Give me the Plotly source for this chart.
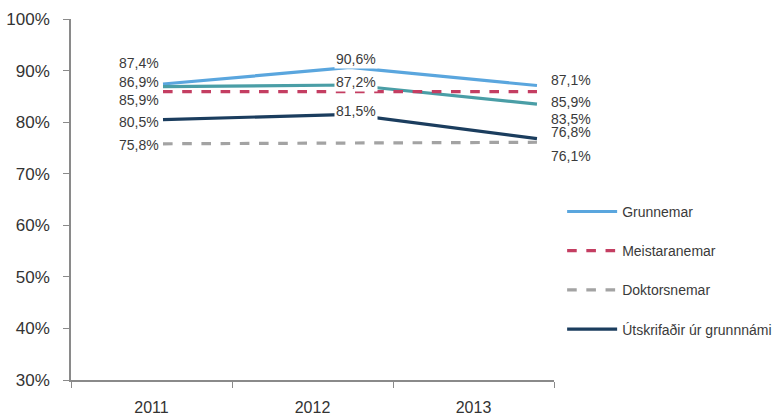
import plotly.graph_objects as go

years = ["2011", "2012", "2013"]
grunnemar = [87.4, 90.6, 87.1]
teal_series = [86.9, 87.2, 83.5]
meistaranemar = [85.9, 85.9, 85.9]
doktorsnemar = [75.8, 75.9, 76.1]
utskrifadir = [80.5, 81.5, 76.8]

series_names = ["Grunnemar", "Meistaranemar", "Doktorsnemar", "Útskrifaðir úr grunnnámi"]
y_ticks = [30, 40, 50, 60, 70, 80, 90, 100]
y_tick_labels = ["30%", "40%", "50%", "60%", "70%", "80%", "90%", "100%"]

labels_2011 = [(grunnemar, "87,4%"), (teal_series, "86,9%"), (meistaranemar, "85,9%"),
               (utskrifadir, "80,5%"), (doktorsnemar, "75,8%")]
labels_2012 = [(grunnemar, "90,6%"), (teal_series, "87,2%"), (utskrifadir, "81,5%")]
labels_2013 = [(grunnemar, "87,1%"), (meistaranemar, "85,9%"), (teal_series, "83,5%"),
               (utskrifadir, "76,8%"), (doktorsnemar, "76,1%")]
shift_2011 = [21, 5, -8, -2, -1]
shift_2012 = [8, 3, 3]
shift_2013 = [6, -10, -15, 7, -14]

fig = go.Figure()

styles = [
    (grunnemar, series_names[0], "#5AA6DE", "solid", True, 1),
    (teal_series, "", "#4A9EA6", "solid", False, 5),
    (meistaranemar, series_names[1], "#C43E62", "dash", True, 2),
    (doktorsnemar, series_names[2], "#A3A3A3", "dash", True, 3),
    (utskrifadir, series_names[3], "#1B3D5E", "solid", True, 4),
]
for i, (vals, name, col, dash, show, rank) in enumerate(styles):
    fig.add_trace(go.Scatter(
        x=years, y=vals, name=name, mode="lines",
        line=dict(color=col, width=3.2, dash=dash),
        showlegend=show, legendgroup="g%d" % i, legendrank=rank,
        xaxis="x2", yaxis="y",
    ))

font_lab = dict(family="Liberation Sans, Arial, sans-serif", size=14, color="#3a3a3a")
for (vals, txt), sh in zip(labels_2011, shift_2011):
    fig.add_annotation(x=0, y=vals[0], xref="x2", yref="y", text=txt,
                       showarrow=False, xanchor="right", yanchor="middle",
                       xshift=-2, yshift=sh, font=font_lab)
for (vals, txt), sh in zip(labels_2012, shift_2012):
    fig.add_annotation(x=1, y=vals[1], xref="x2", yref="y", text=txt,
                       showarrow=False, xanchor="center", yanchor="middle",
                       xshift=6, yshift=sh, font=font_lab,
                       bgcolor="white", borderpad=1)
for (vals, txt), sh in zip(labels_2013, shift_2013):
    fig.add_annotation(x=2, y=vals[2], xref="x2", yref="y", text=txt,
                       showarrow=False, xanchor="left", yanchor="middle",
                       xshift=12, yshift=sh, font=font_lab)

axis_col = "#8a8a8a"
ytick_font = dict(family="Liberation Sans, Arial, sans-serif", size=17, color="#333333")
xtick_font = dict(family="Liberation Sans, Arial, sans-serif", size=16, color="#333333")

fig.update_layout(
    width=784, height=416,
    margin=dict(l=71, r=230, t=19, b=36, autoexpand=False),
    paper_bgcolor="white", plot_bgcolor="white",
    showlegend=True,
    legend=dict(xref="container", x=0.717, y=0.51, yref="paper",
                xanchor="left", yanchor="top",
                font=dict(family="Liberation Sans, Arial, sans-serif", size=14, color="#3a3a3a"),
                tracegroupgap=18, itemwidth=50, bgcolor="rgba(0,0,0,0)"),
    xaxis=dict(type="category", categoryorder="array", categoryarray=years,
               range=[-0.5, 2.5], tickmode="array", tickvals=years, ticktext=years,
               tickson="boundaries", ticks="outside", ticklen=6, tickcolor=axis_col,
               ticklabelstandoff=12,
               showline=True, linecolor=axis_col, linewidth=1.5, showgrid=False,
               zeroline=False, tickfont=xtick_font, automargin=False, fixedrange=True),
    xaxis2=dict(type="category", categoryorder="array", categoryarray=years,
                overlaying="x", range=[-0.492, 2.091], visible=False,
                showgrid=False, zeroline=False, automargin=False),
    yaxis=dict(range=[30, 100], tickvals=y_ticks, ticktext=y_tick_labels,
               ticks="outside", ticklen=6, tickcolor=axis_col, ticklabelstandoff=10,
               showline=True, linecolor=axis_col, linewidth=1.5, showgrid=False,
               zeroline=False, tickfont=ytick_font, automargin=False),
)
fig.add_trace(go.Scatter(x=years, y=[None, None, None], xaxis="x", yaxis="y",
                         showlegend=False, hoverinfo="skip"))

fig.write_html("out.html", config={"displayModeBar": False},
               post_script="document.body.style.margin='0';")
